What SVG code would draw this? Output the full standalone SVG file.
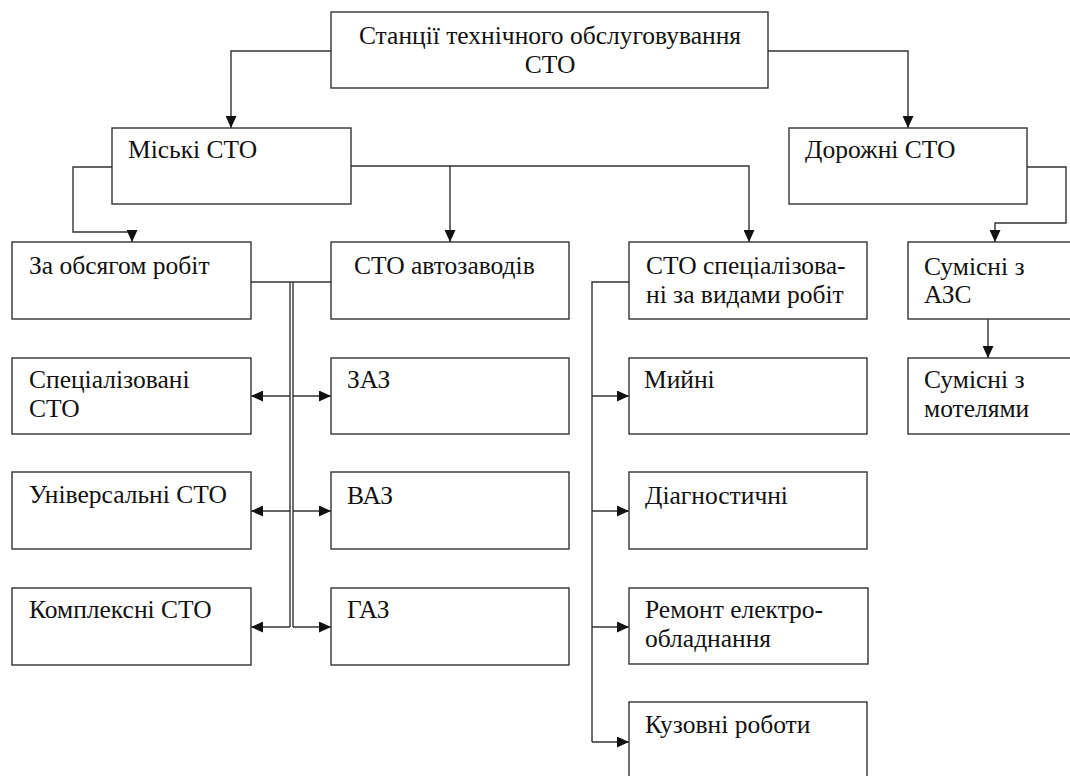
<svg xmlns="http://www.w3.org/2000/svg" width="1070" height="776" viewBox="0 0 1070 776">
  <defs>
    <marker id="arrow" markerUnits="userSpaceOnUse" markerWidth="12" markerHeight="11" refX="12" refY="5.5" orient="auto">
      <path d="M0,0 L12,5.5 L0,11 z" fill="#111"/>
    </marker>
    <style>
      .box { fill: #fff; stroke: #333; stroke-width: 1.4; }
      .lbl { font-family: "Liberation Serif", "Times New Roman", serif; font-size: 25.5px; fill: #111; }
      .mid { text-anchor: middle; }
      .wire { fill: none; stroke: #333; stroke-width: 1.4; }
      .arr { marker-end: url(#arrow); }
    </style>
  </defs>
  <rect width="1070" height="776" fill="#fff"/>

  <!-- connectors -->
  <g id="connectors">
    <!-- root to the two main branches -->
    <path class="wire arr" d="M331,51 H231 V128"/>
    <path class="wire arr" d="M768,51 H908 V128"/>
    <!-- city stations to their sub-groups -->
    <path class="wire arr" d="M112,167 H73 V232 H132 V242"/>
    <path class="wire arr" d="M351,166 H450 V242"/>
    <path class="wire arr" d="M450,166 H749 V242"/>
    <!-- road stations -->
    <path class="wire arr" d="M1027,167 H1066 V223 H995 V242"/>
    <path class="wire arr" d="M988,319 V358"/>
    <!-- shared bus between the volume and factory columns -->
    <path class="wire" d="M251,282 H331"/>
    <path class="wire" d="M290,282 V627"/>
    <path class="wire" d="M293,282 V627" stroke="#666"/>
    <path class="wire arr" d="M290,396 H251"/>
    <path class="wire arr" d="M290,511 H251"/>
    <path class="wire arr" d="M290,627 H251"/>
    <path class="wire arr" d="M293,396 H331"/>
    <path class="wire arr" d="M293,511 H331"/>
    <path class="wire arr" d="M293,627 H331"/>
    <!-- specialised-by-work column -->
    <path class="wire" d="M629,282 H592 V742"/>
    <path class="wire arr" d="M592,396 H629"/>
    <path class="wire arr" d="M592,511 H629"/>
    <path class="wire arr" d="M592,627 H629"/>
    <path class="wire arr" d="M592,742 H629"/>
  </g>

  <!-- nodes -->
  <g id="root">
    <rect class="box" x="331" y="12" width="437" height="76"/>
    <text class="lbl mid" x="550" y="44">Станції технічного обслуговування</text>
    <text class="lbl mid" x="550" y="73">СТО</text>
  </g>
  <g id="city">
    <rect class="box" x="112" y="128" width="239" height="76"/>
    <text class="lbl" x="128" y="158">Міські СТО</text>
  </g>
  <g id="road">
    <rect class="box" x="789" y="128" width="238" height="76"/>
    <text class="lbl" x="805" y="158">Дорожні СТО</text>
  </g>
  <g id="by-volume">
    <rect class="box" x="12" y="242" width="239" height="77"/>
    <text class="lbl" x="29" y="274">За обсягом робіт</text>
  </g>
  <g id="factory">
    <rect class="box" x="331" y="242" width="238" height="77"/>
    <text class="lbl" x="354" y="274">СТО автозаводів</text>
  </g>
  <g id="by-work">
    <rect class="box" x="629" y="242" width="238" height="77"/>
    <text class="lbl" x="646" y="274">СТО спеціалізова-</text>
    <text class="lbl" x="646" y="303">ні за видами робіт</text>
  </g>
  <g id="with-fuel">
    <rect class="box" x="908" y="242" width="170" height="77"/>
    <text class="lbl" x="924" y="275">Сумісні з</text>
    <text class="lbl" x="924" y="303">АЗС</text>
  </g>
  <g id="specialised">
    <rect class="box" x="12" y="358" width="239" height="76"/>
    <text class="lbl" x="29" y="388">Спеціалізовані</text>
    <text class="lbl" x="29" y="417">СТО</text>
  </g>
  <g id="zaz">
    <rect class="box" x="331" y="358" width="238" height="76"/>
    <text class="lbl" x="347" y="388">ЗАЗ</text>
  </g>
  <g id="washing">
    <rect class="box" x="629" y="358" width="238" height="76"/>
    <text class="lbl" x="644" y="388">Мийні</text>
  </g>
  <g id="with-motels">
    <rect class="box" x="908" y="358" width="170" height="76"/>
    <text class="lbl" x="924" y="388">Сумісні з</text>
    <text class="lbl" x="924" y="417">мотелями</text>
  </g>
  <g id="universal">
    <rect class="box" x="12" y="472" width="239" height="77"/>
    <text class="lbl" x="29" y="503">Універсальні СТО</text>
  </g>
  <g id="vaz">
    <rect class="box" x="331" y="472" width="238" height="77"/>
    <text class="lbl" x="347" y="504">ВАЗ</text>
  </g>
  <g id="diagnostic">
    <rect class="box" x="629" y="472" width="238" height="77"/>
    <text class="lbl" x="645" y="504">Діагностичні</text>
  </g>
  <g id="complex">
    <rect class="box" x="12" y="588" width="239" height="77"/>
    <text class="lbl" x="29" y="618">Комплексні СТО</text>
  </g>
  <g id="gaz">
    <rect class="box" x="331" y="588" width="238" height="77"/>
    <text class="lbl" x="347" y="618">ГАЗ</text>
  </g>
  <g id="electrical">
    <rect class="box" x="629" y="588" width="239" height="76"/>
    <text class="lbl" x="645" y="618">Ремонт електро-</text>
    <text class="lbl" x="645" y="647">обладнання</text>
  </g>
  <g id="bodywork">
    <rect class="box" x="629" y="702" width="238" height="90"/>
    <text class="lbl" x="645" y="733">Кузовні роботи</text>
  </g>
</svg>
